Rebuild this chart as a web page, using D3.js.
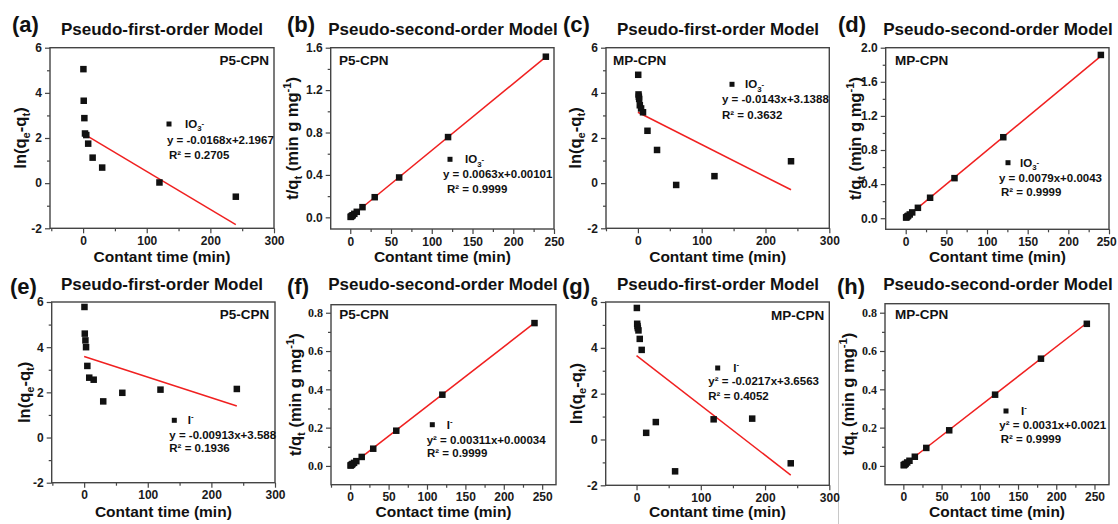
<!DOCTYPE html>
<html><head><meta charset="utf-8">
<script src="https://cdn.jsdelivr.net/npm/d3@7"></script>
<style>
body{margin:0;background:#fff}
svg{display:block;font-family:"Liberation Sans",Arial,sans-serif;font-weight:bold}
</style></head><body>
<svg id="chart" width="1118" height="524"></svg>
<script>
// ---------- data ----------
const timeA = [0.5, 1, 2, 3, 5, 8, 15, 30, 120, 240];
const valA  = [5.05, 3.65, 2.88, 2.2, 2.13, 1.75, 1.13, 0.69, 0.03, -0.6];
const fitA_x = [1, 240], fitA_y = [2.18, -1.835];

const timeB = [0.5, 1, 2, 3, 5, 8, 15, 30, 60, 120, 240];
const valB  = [0.004, 0.007, 0.014, 0.02, 0.033, 0.052, 0.096, 0.19, 0.376, 0.757, 1.515];
const fitB_x = [0, 240], fitB_y = [0.001, 1.513];

const timeC = [0.5, 1, 1.5, 2, 3, 5, 8, 15, 30, 60, 120, 240];
const valC  = [4.8, 3.93, 3.83, 3.73, 3.45, 3.31, 3.14, 2.32, 1.47, -0.08, 0.31, 0.97];
const fitC_x = [0, 240], fitC_y = [3.139, -0.293];

const timeD = [0.5, 1, 2, 3, 5, 8, 15, 30, 60, 120, 240];
const valD  = [0.008, 0.012, 0.02, 0.028, 0.044, 0.068, 0.122, 0.24, 0.47, 0.95, 1.915];
const fitD_x = [0, 240], fitD_y = [0.0043, 1.9003];

const timeE = [0.5, 1, 2, 3, 5, 8, 15, 30, 60, 120, 240];
const valE  = [5.78, 4.6, 4.3, 4.0, 3.17, 2.65, 2.56, 1.6, 1.98, 2.12, 2.15];
const fitE_x = [0, 240], fitE_y = [3.588, 1.397];

const timeF = [0.5, 1, 2, 3, 5, 8, 15, 30, 60, 120, 240];
const valF  = [0.002, 0.004, 0.007, 0.01, 0.016, 0.025, 0.047, 0.09, 0.184, 0.372, 0.746];
const fitF_x = [0, 240], fitF_y = [0.0003, 0.7467];

const timeG = [0.5, 1, 1.5, 2, 3, 5, 8, 15, 30, 60, 120, 180, 240];
const valG  = [5.74, 5.05, 4.95, 4.86, 4.76, 4.39, 3.91, 0.29, 0.76, -1.39, 0.88, 0.91, -1.04];
const fitG_x = [0, 240], fitG_y = [3.656, -1.552];

const timeH = [0.5, 1, 2, 3, 5, 8, 15, 30, 60, 120, 180, 240];
const valH  = [0.004, 0.005, 0.008, 0.011, 0.018, 0.027, 0.048, 0.094, 0.186, 0.372, 0.56, 0.742];
const fitH_x = [0, 240], fitH_y = [0.0021, 0.7461];

// tick values
const ticksLnY = [-2, 0, 2, 4, 6];
const ticksLnX = [0, 100, 200, 300];
const ticksB_Y = [0.0, 0.4, 0.8, 1.2, 1.6];
const ticksD_Y = [0.0, 0.4, 0.8, 1.2, 1.6, 2.0];
const ticksFH_Y = [0.0, 0.2, 0.4, 0.6, 0.8];
const ticksT_X = [0, 50, 100, 150, 200, 250];

// texts
const letters = ["(a)", "(b)", "(c)", "(d)", "(e)", "(f)", "(g)", "(h)"];
const titles = ["Pseudo-first-order Model", "Pseudo-second-order Model", "Pseudo-first-order Model", "Pseudo-second-order Model",
                "Pseudo-first-order Model", "Pseudo-second-order Model", "Pseudo-first-order Model", "Pseudo-second-order Model"];
const samples = ["P5-CPN", "P5-CPN", "MP-CPN", "MP-CPN", "P5-CPN", "P5-CPN", "MP-CPN", "MP-CPN"];
const xLabels = ["Contant time (min)", "Contant time (min)", "Contant time (min)", "Contant time (min)",
                 "Contant time (min)", "Contact time (min)", "Contant time (min)", "Contact time (min)"];
const equations = ["y = -0.0168x+2.1967", "y = 0.0063x+0.00101", "y = -0.0143x+3.1388", "y = 0.0079x+0.0043",
                   "y = -0.00913x+3.588", "y\u00B2 = 0.00311x+0.00034", "y\u00B2 = -0.0217x+3.6563", "y\u00B2 = 0.0031x+0.0021"];
const rSquared = ["0.2705", "0.9999", "0.3632", "0.9999", "0.1936", "0.9999", "0.4052", "0.9999"];
const ions = ["IO3", "IO3", "IO3", "IO3", "I", "I", "I", "I"];

// ---------- layout ----------
const L = [
 {x:timeA,y:valA,fx:fitA_x,fy:fitA_y, box:[50,47.7,274,228.3], xd:[-52,300], yd:[-2,6], xt:ticksLnX, xm:50, yt:ticksLnY, ym:1, kind:"ln",
  letter:[12,32], title:[162,35], ylab:20, xlab:262, samp:[269,65,"end"], leg:[169,124,185,167,144,169,159]},
 {x:timeB,y:valB,fx:fitB_x,fy:fitB_y, box:[330.7,47.7,554,229], xd:[-24,250], yd:[-0.11,1.6], xt:ticksT_X, xm:25, yt:ticksB_Y, ym:0.2, kind:"t",
  letter:[287,32], title:[443,35], ylab:292, xlab:262, samp:[339,65,"start"], leg:[450,159.3,465,443,178,447,193]},
 {x:timeC,y:valC,fx:fitC_x,fy:fitC_y, box:[606,47.7,829.3,228.3], xd:[-50,300], yd:[-2,6], xt:ticksLnX, xm:50, yt:ticksLnY, ym:1, kind:"ln",
  letter:[563,32], title:[718,35], ylab:575, xlab:262, samp:[613,65,"start"], leg:[732,84.3,745,722,103,722,119]},
 {x:timeD,y:valD,fx:fitD_x,fy:fitD_y, box:[885.7,47.7,1109,229.3], xd:[-24.6,250], yd:[-0.13,2.0], xt:ticksT_X, xm:25, yt:ticksD_Y, ym:0.2, kind:"t",
  letter:[838,32], title:[998,35], ylab:855, xlab:262, samp:[895,65,"start"], leg:[1008,162.7,1020,999,182,1001,196]},
 {x:timeE,y:valE,fx:fitE_x,fy:fitE_y, box:[51.7,302,275,482.7], xd:[-51,300], yd:[-2,6], xt:ticksLnX, xm:50, yt:ticksLnY, ym:1, kind:"ln",
  letter:[10,294], title:[162,290], ylab:24, xlab:517, samp:[269.3,318.7,"end"], leg:[174.3,420.3,187.7,169.3,438.7,169.3,452]},
 {x:timeF,y:valF,fx:fitF_x,fy:fitF_y, box:[331,304.7,556,484.7], xd:[-25,268], yd:[-0.098,0.842], xt:ticksT_X, xm:25, yt:ticksFH_Y, ym:0.1, kind:"t", serif:true,
  letter:[287,294], title:[443,290], ylab:295, xlab:517, samp:[339.3,318.7,"start"], leg:[432.3,424.7,446.7,426.7,443.7,427,457]},
 {x:timeG,y:valG,fx:fitG_x,fy:fitG_y, box:[605.7,302,829.3,485.3], xd:[-48,300], yd:[-2,6], xt:ticksLnX, xm:50, yt:ticksLnY, ym:1, kind:"ln",
  letter:[562,294], title:[718,290], ylab:576, xlab:517, samp:[824.3,320,"end"], leg:[717.7,368,733.3,708.3,385.3,708.3,399.7]},
 {x:timeH,y:valH,fx:fitH_x,fy:fitH_y, box:[885,303.7,1109,484.7], xd:[-24,269], yd:[-0.098,0.847], xt:ticksT_X, xm:25, yt:ticksFH_Y, ym:0.1, kind:"t", serif:true,
  letter:[837,294], title:[998,290], ylab:848, xlab:517, samp:[895,318.7,"start"], leg:[1006,411,1021,999.3,428.7,1000.7,443]}
];

const svg = d3.select("#chart");
const FRAME = "#444", TXT = "#1a1a1a", RED = "#f02020";

// faint divider line visible in the reference image between panels (g) and (h)
svg.append("line").attr("x1", 838.5).attr("x2", 838.5).attr("y1", 342).attr("y2", 524)
  .attr("stroke", "#c8c8c8").attr("stroke-width", 1);

function rich(sel, parts, size) {
  parts.forEach(p => {
    const [txt, kind] = p;
    const t = sel.append("tspan").text(txt);
    if (kind === "sub") t.attr("font-size", size*0.68).attr("dy", size*0.28);
    else if (kind === "sup") t.attr("font-size", size*0.68).attr("dy", -size*0.42);
    else if (kind === "back-sub") t.attr("dy", -size*0.28);
    else if (kind === "back-sup") t.attr("dy", size*0.42);
  });
}

function minorTicks(domain, step, majors) {
  const out = [];
  const start = Math.ceil(domain[0]/step - 1e-9), end = Math.floor(domain[1]/step + 1e-9);
  for (let i = start; i <= end; i++) {
    const v = +(i*step).toFixed(6);
    if (!majors.some(m => Math.abs(m - v) < 1e-9)) out.push(v);
  }
  return out;
}

L.forEach((p, i) => {
  const [x0, y0, x1, y1] = p.box;
  const xs = d3.scaleLinear().domain(p.xd).range([x0, x1]);
  const ys = d3.scaleLinear().domain(p.yd).range([y1, y0]);
  const g = svg.append("g");

  // axes
  const fmtY = p.kind === "ln" ? (d => String(d)) : d3.format(".1f");
  const xa = g.append("g").attr("transform", `translate(0,${y1})`)
    .call(d3.axisBottom(xs).tickValues(p.xt).tickSize(5).tickSizeOuter(0).tickPadding(3).tickFormat(d => String(d)));
  const xam = g.append("g").attr("transform", `translate(0,${y1})`)
    .call(d3.axisBottom(xs).tickValues(minorTicks(p.xd, p.xm, p.xt)).tickSize(3).tickSizeOuter(0).tickFormat(""));
  const ya = g.append("g").attr("transform", `translate(${x0},0)`)
    .call(d3.axisLeft(ys).tickValues(p.yt).tickSize(5).tickSizeOuter(0).tickPadding(3).tickFormat(fmtY));
  const yam = g.append("g").attr("transform", `translate(${x0},0)`)
    .call(d3.axisLeft(ys).tickValues(minorTicks(p.yd, p.ym, p.yt)).tickSize(3).tickSizeOuter(0).tickFormat(""));
  [xa, xam, ya, yam].forEach(a => {
    a.select(".domain").remove();
    a.selectAll("line").attr("stroke", FRAME).attr("stroke-width", 1.2);
    a.selectAll("text").attr("fill", TXT).attr("font-size", 12)
      .attr("font-family", '"Liberation Sans",Arial,sans-serif').attr("font-weight", "bold");
  });
  if (p.serif) ya.selectAll("text").attr("font-family", '"Liberation Serif","Times New Roman",serif').attr("font-size", 12);
  // keep tick labels inside the page
  xa.selectAll("text").each(function() {
    const b = this.getBoundingClientRect();
    if (b.right > 1117) d3.select(this).attr("dx", -(b.right - 1117));
  });

  // frame
  g.append("rect").attr("x", x0).attr("y", y0).attr("width", x1 - x0).attr("height", y1 - y0)
    .attr("fill", "none").attr("stroke", FRAME).attr("stroke-width", 1.4);

  // fit line
  g.append("line")
    .attr("x1", xs(p.fx[0])).attr("y1", ys(p.fy[0]))
    .attr("x2", xs(p.fx[1])).attr("y2", ys(p.fy[1]))
    .attr("stroke", RED).attr("stroke-width", 1.5);

  // data squares
  const S = 6.5;
  g.selectAll("rect.pt").data(p.x.map((t, k) => [t, p.y[k]])).enter().append("rect")
    .attr("class", "pt")
    .attr("x", d => xs(d[0]) - S/2).attr("y", d => ys(d[1]) - S/2)
    .attr("width", S).attr("height", S).attr("fill", "#111");

  // panel letter
  g.append("text").attr("x", p.letter[0]).attr("y", p.letter[1]).attr("font-size", 22).attr("fill", "#111").text(letters[i]);
  // title
  g.append("text").attr("x", p.title[0]).attr("y", p.title[1]).attr("text-anchor", "middle")
    .attr("font-size", 17).attr("fill", "#111").text(titles[i]);
  // x label
  g.append("text").attr("x", (x0 + x1)/2).attr("y", p.xlab).attr("text-anchor", "middle")
    .attr("font-size", 15.5).attr("fill", "#111").text(xLabels[i]);
  // y label
  const yl = g.append("text").attr("transform", `translate(${p.ylab},${(y0 + y1)/2}) rotate(-90)`)
    .attr("text-anchor", "middle").attr("dy", "0.35em").attr("font-size", 16.5).attr("fill", "#111");
  if (p.kind === "ln") rich(yl, [["ln(q"], ["e", "sub"], ["-q", "back-sub"], ["t", "sub"], [")", "back-sub"]], 16.5);
  else rich(yl, [["t/q"], ["t", "sub"], [" (min g mg", "back-sub"], ["-1", "sup"], [")", "back-sup"]], 16.5);

  // sample name
  g.append("text").attr("x", p.samp[0]).attr("y", p.samp[1]).attr("text-anchor", p.samp[2])
    .attr("font-size", 13.5).attr("fill", "#111").text(samples[i]);

  // legend
  const lg = p.leg;
  g.append("rect").attr("x", lg[0] - 2.5).attr("y", lg[1] - 2.5).attr("width", 5).attr("height", 5).attr("fill", "#111");
  const it = g.append("text").attr("x", lg[2]).attr("y", lg[1] + 4).attr("font-size", 11.5).attr("fill", "#111");
  if (ions[i] === "IO3") rich(it, [["IO"], ["3", "sub"], ["-", "sup"]], 11.5);
  else rich(it, [["I"], ["-", "sup"]], 11.5);
  g.append("text").attr("x", lg[3]).attr("y", lg[4]).attr("font-size", 11.5).attr("fill", "#111").text(equations[i]);
  g.append("text").attr("x", lg[5]).attr("y", lg[6]).attr("font-size", 11.5).attr("fill", "#111").text("R\u00B2 = " + rSquared[i]);
});
</script>
</body></html>
